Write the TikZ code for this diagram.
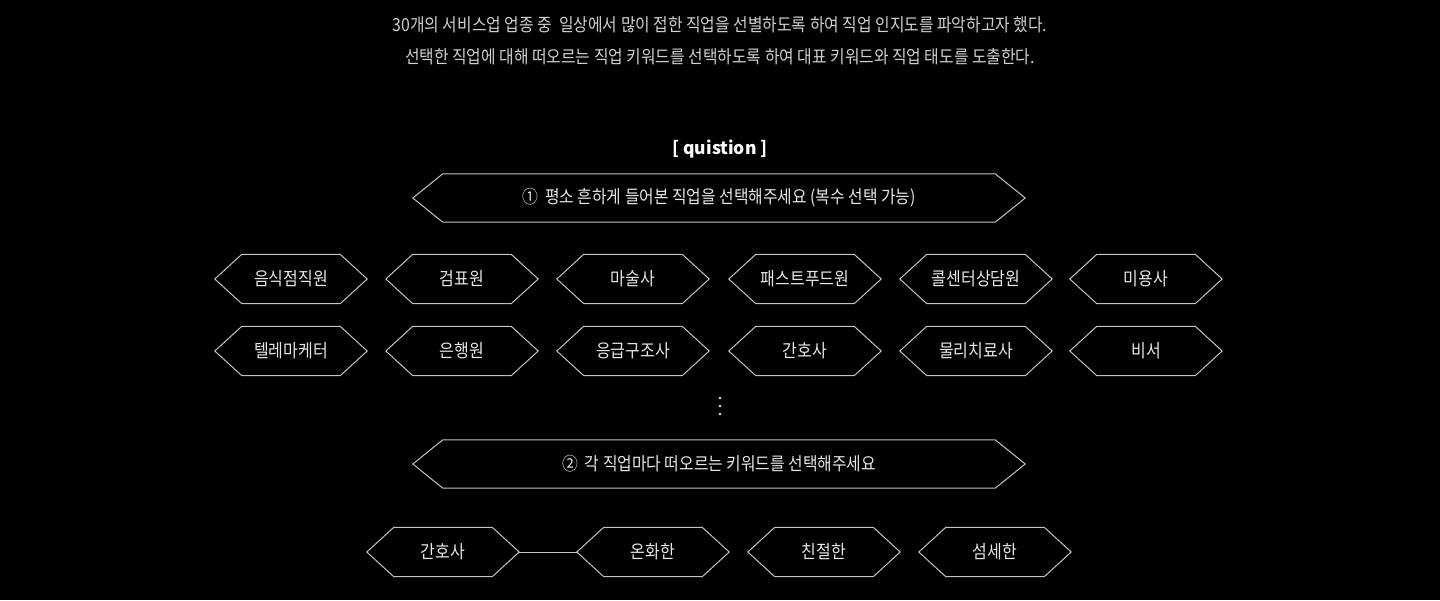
\documentclass[tikz,border=0pt]{standalone}
\usepackage{fontspec}
\setmainfont{Noto Sans CJK KR}
\newfontfamily\kr[FakeStretch=0.88]{Noto Sans CJK KR}
\definecolor{bgc}{HTML}{000000}
\definecolor{linec}{HTML}{C4C4C4}
\definecolor{txtc}{HTML}{E6E6E6}
\definecolor{paraC}{HTML}{CFCFCF}
\tikzset{
  hexbox/.style={minimum width=152pt, minimum height=49pt, inner sep=0pt, text=txtc, font=\kr\fontsize{18.2}{21}\selectfont},
  bighex/.style={minimum width=612pt, minimum height=48pt, inner sep=0pt, text=txtc, font=\kr\fontsize{18}{21}\selectfont},
  hexline/.style={draw=linec, line width=1pt, line join=miter},
  para/.style={text=paraC, font=\kr\fontsize{18}{21}\selectfont, inner sep=0pt},
}
\newcommand{\hexpath}[2]{%
  \draw[hexline] (#1.west) -- ([xshift=#2pt]#1.north west) -- ([xshift=-#2pt]#1.north east) -- (#1.east) -- ([xshift=-#2pt]#1.south east) -- ([xshift=#2pt]#1.south west) -- cycle;}
\begin{document}
\begin{tikzpicture}[x=1pt,y=-1pt]
\fill[bgc] (0,0) rectangle (1440,600);
\useasboundingbox (0,0) rectangle (1440,600);

\node[para] (p1) at (720,25) {30개의 서비스업 업종 중\ \ 일상에서 많이 접한 직업을 선별하도록 하여 직업 인지도를 파악하고자 했다.};
\node[para] (p2) at (720,57) {선택한 직업에 대해 떠오르는 직업 키워드를 선택하도록 하여 대표 키워드와 직업 태도를 도출한다.};

\node[text=white, font=\bfseries\fontsize{17.5}{20}\selectfont, inner sep=0pt] (title) at (720,149) {[ quistion ]};

\node[bighex] (q1) at (719,198) {①\ \ 평소 흔하게 들어본 직업을 선택해주세요 (복수 선택 가능)};
\hexpath{q1}{30}

% row 1
\node[hexbox] (j1) at (291,279) {음식점직원}; \hexpath{j1}{27}
\node[hexbox] (j2) at (462,279) {검표원}; \hexpath{j2}{27}
\node[hexbox] (j3) at (633,279) {마술사}; \hexpath{j3}{27}
\node[hexbox] (j4) at (805,279) {패스트푸드원}; \hexpath{j4}{27}
\node[hexbox] (j5) at (976,279) {콜센터상담원}; \hexpath{j5}{27}
\node[hexbox] (j6) at (1146,279) {미용사}; \hexpath{j6}{27}
% row 2
\node[hexbox] (k1) at (291,351) {텔레마케터}; \hexpath{k1}{27}
\node[hexbox] (k2) at (462,351) {은행원}; \hexpath{k2}{27}
\node[hexbox] (k3) at (633,351) {응급구조사}; \hexpath{k3}{27}
\node[hexbox] (k4) at (805,351) {간호사}; \hexpath{k4}{27}
\node[hexbox] (k5) at (976,351) {물리치료사}; \hexpath{k5}{27}
\node[hexbox] (k6) at (1146,351) {비서}; \hexpath{k6}{27}

% dots
\foreach \yy in {398,406,414} \fill[txtc] (720,\yy) circle (1.3pt);

\node[bighex] (q2) at (719,464) {②\ \ 각 직업마다 떠오르는 키워드를 선택해주세요};
\hexpath{q2}{30}

\node[hexbox] (b1) at (443,552) {간호사}; \hexpath{b1}{27}
\node[hexbox] (b2) at (653,552) {온화한}; \hexpath{b2}{27}
\node[hexbox] (b3) at (824,552) {친절한}; \hexpath{b3}{27}
\node[hexbox] (b4) at (995,552) {섬세한}; \hexpath{b4}{27}
\draw[hexline] (b1.east) -- (b2.west);
\end{tikzpicture}
\end{document}
